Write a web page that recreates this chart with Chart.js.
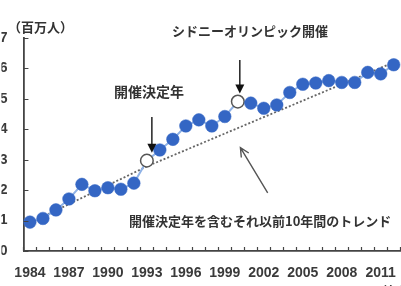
<!DOCTYPE html>
<html>
<head>
<meta charset="utf-8">
<script src="https://cdn.jsdelivr.net/npm/chart.js@4.4.0/dist/chart.umd.min.js"></script>
<style>
  html, body { margin: 0; padding: 0; overflow: hidden; background: #fff; }
  #wrap { width: 420px; height: 286px; position: relative; }
</style>
</head>
<body>
<div id="wrap"><canvas id="myChart"></canvas></div>
<script>
// visitors per year (millions)
const years = [1984, 1985, 1986, 1987, 1988, 1989, 1990, 1991, 1992, 1993,
               1994, 1995, 1996, 1997, 1998, 1999, 2000, 2001, 2002, 2003,
               2004, 2005, 2006, 2007, 2008, 2009, 2010, 2011, 2012];
const visitors = [0.95, 1.07, 1.35, 1.71, 2.19, 1.98, 2.08, 2.03, 2.23, 2.97,
                  3.32, 3.67, 4.11, 4.31, 4.11, 4.42, 4.91, 4.86, 4.69, 4.80,
                  5.21, 5.48, 5.52, 5.60, 5.54, 5.54, 5.87, 5.82, 6.12];
// dotted trend line (10 years up to the decision year, extended)
const trendYears = [1984, 1993, 2012];
const trendValues = [0.92, 2.78, 6.2];
// highlighted years: decision year and Olympic year
const decisionYear = 1993;
const olympicYear = 2000;
const yearTicks = [1984, 1987, 1990, 1993, 1996, 1999, 2002, 2005, 2008, 2011];

const jpFont = '"Noto Sans CJK JP", sans-serif';
const numFont = '"Liberation Sans", Arial, sans-serif';
const textColor = '#333';

const isOpen = (y) => y === decisionYear || y === olympicYear;

const arrowDown = (ctx, x, y1, y2) => {
    ctx.beginPath();
    ctx.moveTo(x, y1);
    ctx.lineTo(x, y2 - 8);
    ctx.stroke();
    ctx.beginPath();
    ctx.moveTo(x - 4.5, y2 - 9);
    ctx.lineTo(x + 4.5, y2 - 9);
    ctx.lineTo(x, y2);
    ctx.closePath();
    ctx.fill();
};

const extrasPlugin = {
    id: 'extras',
    afterDraw(chart) {
        const ctx = chart.ctx;
        const xs = chart.scales.x;
        const ys = chart.scales.y;
        const area = chart.chartArea;
        ctx.save();
        // inward tick marks
        ctx.strokeStyle = '#444';
        ctx.lineWidth = 1.2;
        ctx.beginPath();
        for (let v = xs.min; v <= xs.max; v += 1) {
            const px = Math.round(xs.getPixelForValue(v)) + 0.5;
            ctx.moveTo(px, area.bottom);
            ctx.lineTo(px, area.bottom - 4);
        }
        for (let v = ys.min; v <= ys.max; v += 1) {
            const py = Math.round(ys.getPixelForValue(v)) + 0.5;
            ctx.moveTo(area.left, py);
            ctx.lineTo(area.left + 5, py);
        }
        ctx.stroke();

        // texts
        ctx.fillStyle = textColor;
        ctx.textBaseline = 'middle';
        ctx.textAlign = 'left';
        ctx.font = 'bold 13px ' + jpFont;
        ctx.fillText('（百万人）', 8, 27);
        ctx.fillText('シドニーオリンピック開催', 172, 31);
        ctx.font = 'bold 14px ' + jpFont;
        ctx.fillText('開催決定年', 114, 92);
        ctx.font = 'bold 13px ' + jpFont;
        ctx.fillText('開催決定年を含むそれ以前10年間のトレンド', 129, 221);
        ctx.fillText('（年）', 374, 291);

        // arrows to the open circles
        ctx.strokeStyle = '#222';
        ctx.fillStyle = '#111';
        ctx.lineWidth = 1.5;
        const iD = years.indexOf(decisionYear);
        const iO = years.indexOf(olympicYear);
        arrowDown(ctx, xs.getPixelForValue(decisionYear) + 5, 117, ys.getPixelForValue(visitors[iD]) - 8);
        arrowDown(ctx, xs.getPixelForValue(olympicYear) + 2, 60, ys.getPixelForValue(visitors[iO]) - 8);

        // pointer to the trend line
        const tx = xs.getPixelForValue(2000.2), ty = ys.getPixelForValue(3.4);
        const sx = xs.getPixelForValue(2002.3), sy = ys.getPixelForValue(1.91);
        ctx.strokeStyle = '#555';
        ctx.lineWidth = 1.4;
        ctx.beginPath();
        ctx.moveTo(sx, sy);
        ctx.lineTo(tx, ty);
        const ang = Math.atan2(sy - ty, sx - tx);
        ctx.moveTo(tx + 10 * Math.cos(ang - 0.45), ty + 10 * Math.sin(ang - 0.45));
        ctx.lineTo(tx, ty);
        ctx.lineTo(tx + 10 * Math.cos(ang + 0.45), ty + 10 * Math.sin(ang + 0.45));
        ctx.stroke();
        ctx.restore();
    }
};

const ctx = document.getElementById('myChart');
new Chart(ctx, {
    type: 'line',
    data: {
        datasets: [{
            label: 'visitors',
            data: years.map((y, i) => ({ x: y, y: visitors[i] })),
            borderColor: '#8fb2e6',
            borderWidth: 2,
            pointRadius: 6.3,
            pointBackgroundColor: years.map(y => isOpen(y) ? '#ffffff' : '#3466c4'),
            pointBorderColor: years.map(y => isOpen(y) ? '#555555' : '#3466c4'),
            pointBorderWidth: years.map(y => isOpen(y) ? 1.5 : 0.5),
            tension: 0,
            order: 1,
            clip: false
        }, {
            label: 'trend',
            data: trendYears.map((y, i) => ({ x: y, y: trendValues[i] })),
            borderColor: '#666',
            borderWidth: 1.8,
            borderDash: [2, 2],
            pointRadius: 0,
            tension: 0,
            order: 2
        }]
    },
    options: {
        responsive: true,
        maintainAspectRatio: false,
        animation: false,
        layout: { padding: { top: 38, left: 0, right: 0, bottom: 0 } },
        plugins: {
            legend: { display: false },
            tooltip: { enabled: false }
        },
        scales: {
            x: {
                type: 'linear',
                min: 1983.5,
                max: 2013.5,
                afterFit: (scale) => { scale.height = 35; },
                afterBuildTicks: (scale) => { scale.ticks = yearTicks.map(v => ({ value: v })); },
                grid: { display: true, drawOnChartArea: false, drawTicks: false },
                border: { display: true, color: '#444', width: 1.8 },
                ticks: {
                    padding: 14,
                    color: '#3a3a3a',
                    font: { family: numFont, size: 14, weight: 'bold' },
                    maxRotation: 0,
                    autoSkip: false,
                    callback: (v) => String(v)
                }
            },
            y: {
                min: 0,
                max: 7,
                afterFit: (scale) => { scale.width = 22; },
                grid: { display: true, drawOnChartArea: false, drawTicks: false },
                border: { display: true, color: '#444', width: 1.8 },
                ticks: {
                    stepSize: 1,
                    padding: 16,
                    color: '#3a3a3a',
                    font: { family: numFont, size: 14, weight: 'bold' }
                }
            }
        }
    },
    plugins: [extrasPlugin]
});
</script>
</body>
</html>
